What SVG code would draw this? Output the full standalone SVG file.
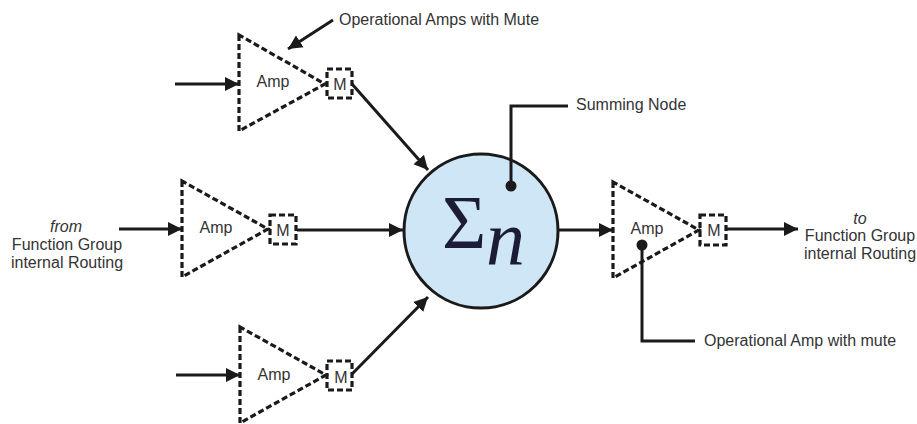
<svg xmlns="http://www.w3.org/2000/svg" width="917" height="424" viewBox="0 0 917 424">
<style>
text{font-family:"Liberation Sans",Arial,sans-serif;font-size:16px;fill:#333}
.c{text-anchor:middle}
.amp{fill:none;stroke:#1a1a1a;stroke-width:3.2;stroke-dasharray:6 3}
.ln{fill:none;stroke:#1a1a1a;stroke-width:3}
</style>
<defs>
<marker id="a" markerUnits="userSpaceOnUse" markerWidth="15" markerHeight="16" refX="14" refY="8" orient="auto"><path d="M0 1L14 8L0 15Z" fill="#1a1a1a"/></marker>
</defs>
<rect width="917" height="424" fill="#fff"/>
<g id="sum">
<circle cx="481" cy="231" r="77" fill="#cfe6f6" stroke="#1a1a1a" stroke-width="3"/>
<text x="442" y="248" style="font-family:'Liberation Serif',serif;font-size:76px;fill:#1c1c38">Σ</text>
<text x="486" y="265" style="font-family:'Liberation Serif',serif;font-size:78px;font-style:italic;fill:#1c1c38">n</text>
</g>
<g id="amp1">
<path class="amp" d="M239 35V131L325 84Z"/><rect class="amp" x="327" y="69" width="25" height="29"/>
<text class="c" x="273" y="87">Amp</text><text class="c" x="340" y="90">M</text>
</g>
<g id="amp2">
<path class="amp" d="M182 181V277L268 229Z"/><rect class="amp" x="270" y="215" width="26" height="29"/>
<text class="c" x="216" y="233">Amp</text><text class="c" x="283" y="236">M</text>
</g>
<g id="amp3">
<path class="amp" d="M240 327V423L326 375Z"/><rect class="amp" x="327" y="361" width="25" height="29"/>
<text class="c" x="274" y="380">Amp</text><text class="c" x="341" y="383">M</text>
</g>
<g id="amp4">
<path class="amp" d="M613 182V278L699 230Z"/><rect class="amp" x="700" y="215" width="26" height="30"/>
<text class="c" x="647" y="234">Amp</text><text class="c" x="714" y="236">M</text>
</g>
<g id="connectors">
<path class="ln" marker-end="url(#a)" d="M175 84H239"/>
<path class="ln" marker-end="url(#a)" d="M119 229H182"/>
<path class="ln" marker-end="url(#a)" d="M176 375H240"/>
<path class="ln" marker-end="url(#a)" d="M333 20L288 49"/>
<path class="ln" marker-end="url(#a)" d="M352 84L428 170"/>
<path class="ln" marker-end="url(#a)" d="M297 230H403"/>
<path class="ln" marker-end="url(#a)" d="M352 374L428 297"/>
<path class="ln" marker-end="url(#a)" d="M559 230H613"/>
<path class="ln" marker-end="url(#a)" d="M726 229H798"/>
<path class="ln" d="M568 106H511V186"/><circle cx="511" cy="186" r="5.5" fill="#1a1a1a"/>
<path class="ln" d="M642 245V341H695"/><circle cx="642" cy="245" r="5.5" fill="#1a1a1a"/>
</g>
<g id="labels">
<text x="339" y="25">Operational Amps with Mute</text>
<text x="576" y="110">Summing Node</text>
<text x="704" y="346">Operational Amp with mute</text>
<text class="c" x="66" y="232" font-style="italic">from</text>
<text class="c" x="67" y="250">Function Group</text>
<text class="c" x="67" y="268">internal Routing</text>
<text class="c" x="860" y="224" font-style="italic">to</text>
<text class="c" x="860" y="241">Function Group</text>
<text class="c" x="860" y="259">internal Routing</text>
</g>
</svg>
